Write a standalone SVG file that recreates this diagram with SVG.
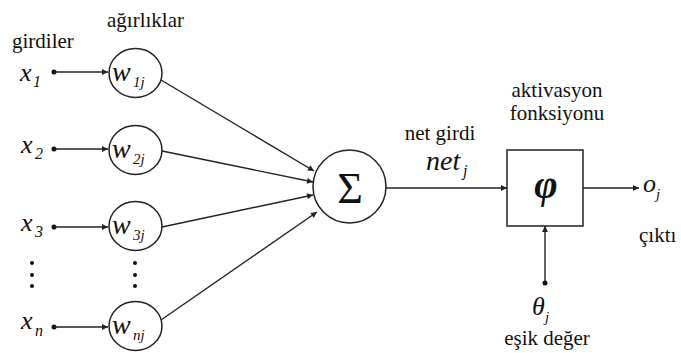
<svg xmlns="http://www.w3.org/2000/svg" width="681" height="353" viewBox="0 0 681 353">
<style>
text{font-family:"Liberation Serif","Times New Roman",serif}
.ln{stroke:#222;stroke-width:1.4;fill:none}
.nd{stroke:#222;stroke-width:1.5;fill:#fff}
.t{font-size:21px;fill:#111}
.m{font-style:italic;fill:#111}
.dot{fill:#111}
</style>
<defs>
<marker id="ah" viewBox="0 0 10 10" refX="10" refY="5" markerWidth="8" markerHeight="6" markerUnits="userSpaceOnUse" orient="auto">
<path d="M0,0 L10,5 L0,10 z" fill="#222"/>
</marker>
</defs>
<rect width="681" height="353" fill="#fff"/>

<g id="labels">
<text class="t" x="12" y="48">girdiler</text>
<text class="t" x="107" y="27">ağırlıklar</text>
<text class="t" x="440" y="140" text-anchor="middle">net girdi</text>
<text class="m" x="426" y="170" font-size="28">net</text>
<text class="m" x="463" y="176" font-size="16">j</text>
<text class="t" x="557" y="97" text-anchor="middle">aktivasyon</text>
<text class="t" x="557" y="120" text-anchor="middle">fonksiyonu</text>
<text class="t" x="639" y="242">çıktı</text>
<text class="t" x="547" y="345" text-anchor="middle">eşik değer</text>
</g>

<g id="inputs">
<g id="x1"><text class="m" x="20" y="81" font-size="26">x</text><text class="m" x="33" y="87" font-size="16">1</text><circle class="dot" cx="54" cy="72" r="2.5"/></g>
<g id="x2"><text class="m" x="21" y="153" font-size="26">x</text><text class="m" x="35" y="159" font-size="16">2</text><circle class="dot" cx="54" cy="149" r="2.5"/></g>
<g id="x3"><text class="m" x="21" y="231" font-size="26">x</text><text class="m" x="35" y="237" font-size="16">3</text><circle class="dot" cx="54" cy="227" r="2.5"/></g>
<g id="xn"><text class="m" x="21" y="329" font-size="26">x</text><text class="m" x="35" y="336" font-size="16">n</text><circle class="dot" cx="54" cy="327" r="2.5"/></g>
<g id="vdots1"><circle class="dot" cx="32" cy="263" r="2"/><circle class="dot" cx="32" cy="275" r="2"/><circle class="dot" cx="32" cy="286" r="2"/></g>
<g id="vdots2"><circle class="dot" cx="135" cy="263" r="2"/><circle class="dot" cx="135" cy="275" r="2"/><circle class="dot" cx="135" cy="286" r="2"/></g>
</g>

<g id="connectors">
<line class="ln" x1="54" y1="72" x2="108" y2="72" marker-end="url(#ah)"/>
<line class="ln" x1="54" y1="149" x2="108" y2="149" marker-end="url(#ah)"/>
<line class="ln" x1="54" y1="227" x2="108" y2="227" marker-end="url(#ah)"/>
<line class="ln" x1="54" y1="327" x2="108" y2="327" marker-end="url(#ah)"/>
<line class="ln" x1="161" y1="80" x2="314" y2="171" marker-end="url(#ah)"/>
<line class="ln" x1="162" y1="151" x2="313" y2="182" marker-end="url(#ah)"/>
<line class="ln" x1="162" y1="227" x2="313" y2="195" marker-end="url(#ah)"/>
<line class="ln" x1="161" y1="320" x2="317" y2="212" marker-end="url(#ah)"/>
<line class="ln" x1="386" y1="188" x2="507" y2="188" marker-end="url(#ah)"/>
<line class="ln" x1="583" y1="188" x2="639" y2="188" marker-end="url(#ah)"/>
<line class="ln" x1="545" y1="283" x2="545" y2="226" marker-end="url(#ah)"/>
<circle class="dot" cx="545" cy="283" r="2.5"/>
</g>

<g id="w1j"><ellipse class="nd" cx="135.5" cy="73" rx="26.5" ry="24.5"/><text class="m" x="112" y="81" font-size="28">w</text><text class="m" x="133" y="87" font-size="15">1j</text></g>
<g id="w2j"><ellipse class="nd" cx="135.5" cy="150" rx="26.5" ry="24.5"/><text class="m" x="112" y="158" font-size="28">w</text><text class="m" x="133" y="164" font-size="15">2j</text></g>
<g id="w3j"><ellipse class="nd" cx="135.5" cy="226" rx="26.5" ry="24.5"/><text class="m" x="112" y="234" font-size="28">w</text><text class="m" x="133" y="240" font-size="15">3j</text></g>
<g id="wnj"><ellipse class="nd" cx="135.5" cy="326" rx="26.5" ry="24.5"/><text class="m" x="112" y="334" font-size="28">w</text><text class="m" x="133" y="340" font-size="15">nj</text></g>

<g id="sum"><circle class="nd" cx="349.5" cy="186.5" r="36.5"/><text x="350" y="203" text-anchor="middle" font-size="44" fill="#111">Σ</text></g>

<g id="activation"><rect class="nd" x="507" y="150" width="76" height="76"/><text class="m" x="546" y="198" text-anchor="middle" font-size="40" font-weight="bold">φ</text></g>

<g id="output"><text class="m" x="643" y="192" font-size="26">o</text><text class="m" x="656" y="199" font-size="15">j</text></g>

<g id="threshold"><text class="m" x="532" y="315" font-size="26">θ</text><text class="m" x="545" y="322" font-size="15">j</text></g>
</svg>
